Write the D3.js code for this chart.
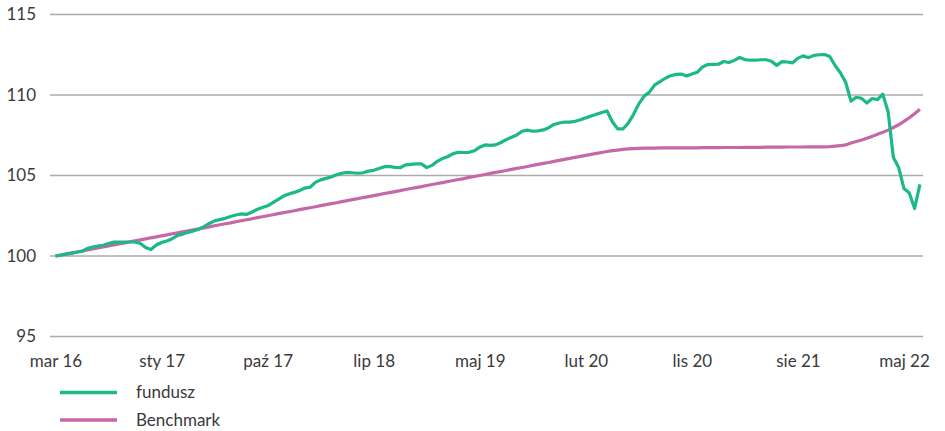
<!DOCTYPE html>
<html>
<head>
<meta charset="utf-8">
<script src="https://cdnjs.cloudflare.com/ajax/libs/d3/7.8.4/d3.min.js"></script>
<style>
  body { margin: 0; background: #fff; }
  text { font-family: Lato, "Open Sans", sans-serif; fill: #3a3a3a; }
</style>
</head>
<body>
<div id="chart"></div>
<script>
// fortnightly points, one label every 20 points
const xLabels = ["mar 16", "sty 17", "paź 17", "lip 18", "maj 19", "lut 20", "lis 20", "sie 21", "maj 22"];
const yTicks = [95, 100, 105, 110, 115];

const fundusz = [
  100.00, 100.05, 100.11, 100.16, 100.23, 100.29, 100.47, 100.55, 100.61, 100.67,
  100.78, 100.86, 100.86, 100.86, 100.87, 100.87, 100.78, 100.53, 100.40, 100.68,
  100.84, 100.93, 101.07, 101.28, 101.36, 101.47, 101.56, 101.66, 101.82, 102.02,
  102.18, 102.26, 102.34, 102.45, 102.55, 102.62, 102.58, 102.72, 102.89, 103.01,
  103.12, 103.32, 103.52, 103.72, 103.85, 103.95, 104.06, 104.22, 104.27, 104.57,
  104.73, 104.82, 104.91, 105.04, 105.14, 105.19, 105.17, 105.14, 105.17, 105.27,
  105.32, 105.43, 105.55, 105.57, 105.50, 105.48, 105.66, 105.69, 105.72, 105.72,
  105.49, 105.63, 105.88, 106.06, 106.18, 106.36, 106.44, 106.43, 106.44, 106.54,
  106.76, 106.90, 106.87, 106.90, 107.05, 107.23, 107.38, 107.52, 107.75, 107.82,
  107.75, 107.77, 107.83, 107.97, 108.17, 108.26, 108.32, 108.32, 108.37, 108.46,
  108.58, 108.69, 108.80, 108.91, 109.01, 108.34, 107.90, 107.89, 108.25, 108.80,
  109.45, 109.93, 110.18, 110.63, 110.83, 111.04, 111.20, 111.28, 111.30, 111.18,
  111.30, 111.41, 111.74, 111.89, 111.90, 111.91, 112.08, 112.02, 112.15, 112.33,
  112.20, 112.16, 112.16, 112.19, 112.19, 112.10, 111.84, 112.07, 112.05, 112.00,
  112.29, 112.43, 112.32, 112.46, 112.50, 112.51, 112.39, 111.83, 111.38, 110.79,
  109.62, 109.86, 109.79, 109.50, 109.78, 109.71, 110.05, 108.96, 106.12, 105.49,
  104.19, 103.91, 102.95, 104.45
];

const benchmark = [
  100.00, 100.06, 100.13, 100.19, 100.25, 100.31, 100.38, 100.44, 100.50, 100.56,
  100.63, 100.69, 100.75, 100.81, 100.88, 100.94, 101.00, 101.06, 101.13, 101.19,
  101.25, 101.31, 101.38, 101.44, 101.50, 101.56, 101.63, 101.69, 101.75, 101.81,
  101.88, 101.94, 102.00, 102.06, 102.13, 102.19, 102.25, 102.31, 102.38, 102.44,
  102.50, 102.56, 102.63, 102.69, 102.75, 102.81, 102.88, 102.94, 103.00, 103.06,
  103.13, 103.19, 103.25, 103.31, 103.38, 103.44, 103.50, 103.56, 103.63, 103.69,
  103.75, 103.81, 103.88, 103.94, 104.00, 104.06, 104.13, 104.19, 104.25, 104.31,
  104.38, 104.44, 104.50, 104.56, 104.63, 104.69, 104.75, 104.81, 104.88, 104.94,
  105.00, 105.06, 105.13, 105.19, 105.25, 105.31, 105.38, 105.44, 105.50, 105.56,
  105.63, 105.69, 105.75, 105.81, 105.88, 105.94, 106.00, 106.06, 106.13, 106.19,
  106.25, 106.31, 106.37, 106.43, 106.49, 106.54, 106.58, 106.62, 106.65, 106.67,
  106.69, 106.70, 106.70, 106.70, 106.71, 106.71, 106.71, 106.71, 106.72, 106.72,
  106.72, 106.72, 106.73, 106.73, 106.73, 106.73, 106.74, 106.74, 106.74, 106.74,
  106.75, 106.75, 106.75, 106.75, 106.76, 106.76, 106.76, 106.76, 106.77, 106.77,
  106.77, 106.77, 106.78, 106.78, 106.78, 106.78, 106.79, 106.82, 106.85, 106.90,
  107.02, 107.11, 107.21, 107.32, 107.43, 107.56, 107.68, 107.82, 107.98, 108.15,
  108.36, 108.59, 108.84, 109.12
];

const seriesNames = ["fundusz", "Benchmark"];
const colors = ["#1bb889", "#c468a9"];

const width = 945, height = 431;
const margin = {left: 50, right: 22, top: 14.5, bottom: 94.5};

const svg = d3.select("#chart").append("svg")
  .attr("width", width)
  .attr("height", height);

const x = d3.scaleLinear()
  .domain([0, 160])
  .range([55.5, 904]);

const y = d3.scaleLinear()
  .domain([95, 115])
  .range([height - margin.bottom, margin.top]);

// horizontal grid
svg.append("g")
  .selectAll("line")
  .data(yTicks)
  .join("line")
  .attr("x1", margin.left)
  .attr("x2", width - margin.right)
  .attr("y1", d => y(d))
  .attr("y2", d => y(d))
  .attr("stroke", "#ababab")
  .attr("stroke-width", 1.3);

// y axis labels
const yAxis = svg.append("g")
  .attr("transform", `translate(${margin.left},0)`)
  .call(d3.axisLeft(y).tickValues(yTicks).tickSize(0).tickPadding(14));
yAxis.select(".domain").remove();
yAxis.selectAll("text")
  .style("font-family", "Lato, sans-serif")
  .style("font-size", "17px")
  .attr("fill", "#3a3a3a");

// x axis labels
const xAxis = svg.append("g")
  .attr("transform", `translate(0,${height - margin.bottom})`)
  .call(d3.axisBottom(x)
    .tickValues(xLabels.map((d, i) => i * 20))
    .tickFormat((d, i) => xLabels[i])
    .tickSize(0)
    .tickPadding(18));
xAxis.select(".domain").remove();
xAxis.selectAll("text")
  .style("font-family", "Lato, sans-serif")
  .style("font-size", "17px")
  .attr("fill", "#3a3a3a");

const line = d3.line()
  .x((d, i) => x(i))
  .y(d => y(d));

[benchmark, fundusz].forEach((s, k) => {
  svg.append("path")
    .datum(s)
    .attr("fill", "none")
    .attr("stroke", colors[1 - k])
    .attr("stroke-width", 3.2)
    .attr("stroke-linejoin", "round")
    .attr("d", line);
});

// legend
const legend = svg.append("g");
seriesNames.forEach((name, i) => {
  const ly = 392.5 + i * 27.5;
  legend.append("line")
    .attr("x1", 60).attr("x2", 117)
    .attr("y1", ly).attr("y2", ly)
    .attr("stroke", colors[i])
    .attr("stroke-width", 3.5);
  legend.append("text")
    .attr("x", 136)
    .attr("y", ly + 5.5)
    .style("font-size", "17px")
    .text(name);
});
</script>
</body>
</html>
